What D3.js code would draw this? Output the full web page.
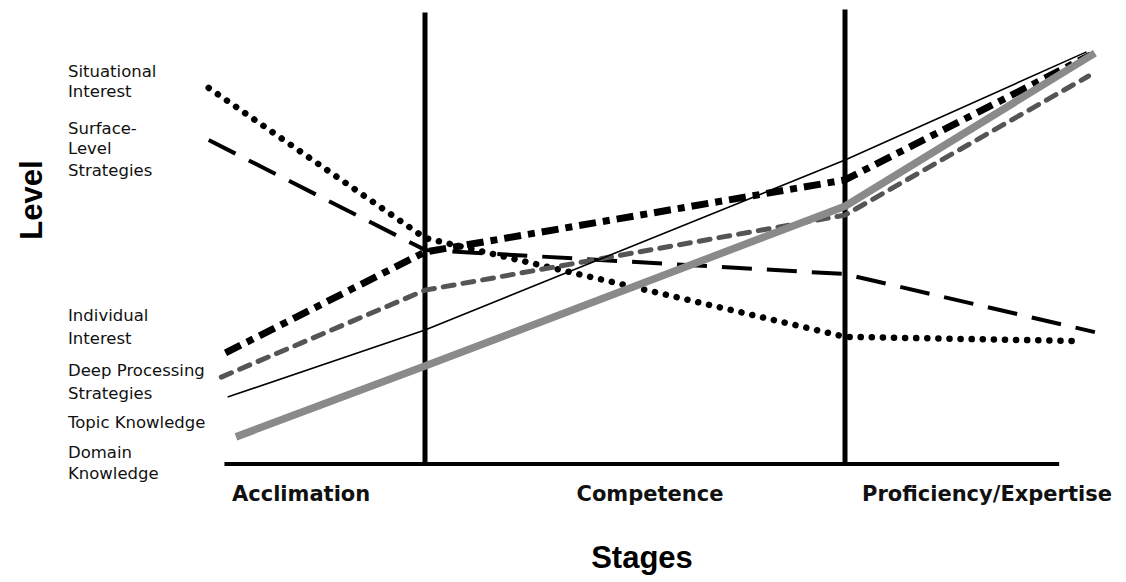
<!DOCTYPE html>
<html><head><meta charset="utf-8">
<script src="https://cdn.jsdelivr.net/npm/d3@7"></script>
<style>html,body{margin:0;padding:0;background:#fff;}svg{display:block;}</style>
</head><body>
<svg id="chart" width="1126" height="582"></svg>
<script>
// Stage progress positions (x units): boundaries between stages at 1 and 3
const stageNames = ["Acclimation", "Competence", "Proficiency/Expertise"];
const stageBoundaries = [1, 3];
const seriesNames = ["Situational Interest", "Surface-Level Strategies", "Individual Interest",
  "Deep Processing Strategies", "Topic Knowledge", "Domain Knowledge"];
// x positions (stage progress) and levels for each series
const situationalX = [-0.03, 1, 3, 4.12];
const situationalY = [88.7, 53.3, 30.0, 29.0];
const surfaceX = [-0.03, 1, 3, 4.19];
const surfaceY = [76.4, 50.5, 44.8, 31.1];
const individualX = [0.05, 1, 3, 4.17];
const individualY = [26.2, 50.0, 67.0, 96.5];
const deepX = [0.03, 1, 3, 4.16];
const deepY = [20.5, 41.0, 58.7, 91.5];
const topicX = [0.06, 1, 3, 4.15];
const topicY = [15.8, 31.6, 71.7, 97.2];
const domainX = [0.10, 1, 3, 4.19];
const domainY = [6.4, 23.1, 60.8, 96.9];
const leftLabels = [["Situational", "Interest"], ["Surface-", "Level", "Strategies"],
  ["Individual", "Interest"], ["Deep Processing", "Strategies"], ["Topic Knowledge"], ["Domain", "Knowledge"]];

const svg = d3.select("#chart");
const x = d3.scaleLinear().domain([0, 4]).range([215, 1055]);
const y = d3.scaleLinear().domain([0, 100]).range([464, 40]);

const styles = [
  {stroke: "#000", width: 6.5, dash: "0.1 11", cap: "round"},
  {stroke: "#000", width: 4, dash: "30 15", cap: "butt"},
  {stroke: "#000", width: 7, dash: "17 7 7 7", cap: "butt"},
  {stroke: "#555", width: 5, dash: "11 9", cap: "round"},
  {stroke: "#000", width: 1.6, dash: null, cap: "butt"},
  {stroke: "#8a8a8a", width: 7.5, dash: null, cap: "butt"}
];
const xs = [situationalX, surfaceX, individualX, deepX, topicX, domainX];
const ys = [situationalY, surfaceY, individualY, deepY, topicY, domainY];

// axis baseline
svg.append("line").attr("x1", x(0.045)).attr("x2", x(4.02)).attr("y1", y(0)).attr("y2", y(0))
  .attr("stroke", "#000").attr("stroke-width", 4);

// stage boundary verticals
const vTops = [106.5, 107.2];
stageBoundaries.forEach((b, i) => {
  svg.append("line").attr("x1", x(b)).attr("x2", x(b)).attr("y1", y(0) + 2).attr("y2", y(vTops[i]))
    .attr("stroke", "#000").attr("stroke-width", 5);
});

const line = d3.line().x(d => x(d[0])).y(d => y(d[1]));
seriesNames.forEach((name, i) => {
  const pts = xs[i].map((v, j) => [v, ys[i][j]]);
  const s = styles[i];
  svg.append("path").datum(pts).attr("d", line).attr("fill", "none")
    .attr("stroke", s.stroke).attr("stroke-width", s.width)
    .attr("stroke-dasharray", s.dash).attr("stroke-linecap", s.cap)
    .attr("stroke-linejoin", "round");
});

// left labels
const labelFont = "'DejaVu Sans', sans-serif";
const labelBaselines = [[77, 97], [134, 154, 176], [321, 344], [376, 399], [428], [458, 479]];
leftLabels.forEach((lines, i) => {
  lines.forEach((t, j) => {
    svg.append("text").attr("x", 68).attr("y", labelBaselines[i][j]).text(t)
      .attr("font-family", labelFont).attr("font-size", 16.5).attr("fill", "#111");
  });
});

// stage labels
const stageX = [232, 650, 862];
const stageAnchor = ["start", "middle", "start"];
stageNames.forEach((t, i) => {
  svg.append("text").attr("x", stageX[i]).attr("y", 501).text(t)
    .attr("text-anchor", stageAnchor[i])
    .attr("font-family", labelFont).attr("font-size", 21).attr("font-weight", "bold").attr("fill", "#111");
});

// axis titles
svg.append("text").attr("x", 642).attr("y", 568).attr("text-anchor", "middle").text("Stages")
  .attr("font-family", "'Liberation Sans', Arial, sans-serif").attr("font-weight", "bold").attr("font-size", 31);
svg.append("text").attr("transform", "translate(42,200) rotate(-90)").attr("text-anchor", "middle").text("Level")
  .attr("font-family", "'Liberation Sans', Arial, sans-serif").attr("font-weight", "bold").attr("font-size", 31);
</script>
</body></html>
